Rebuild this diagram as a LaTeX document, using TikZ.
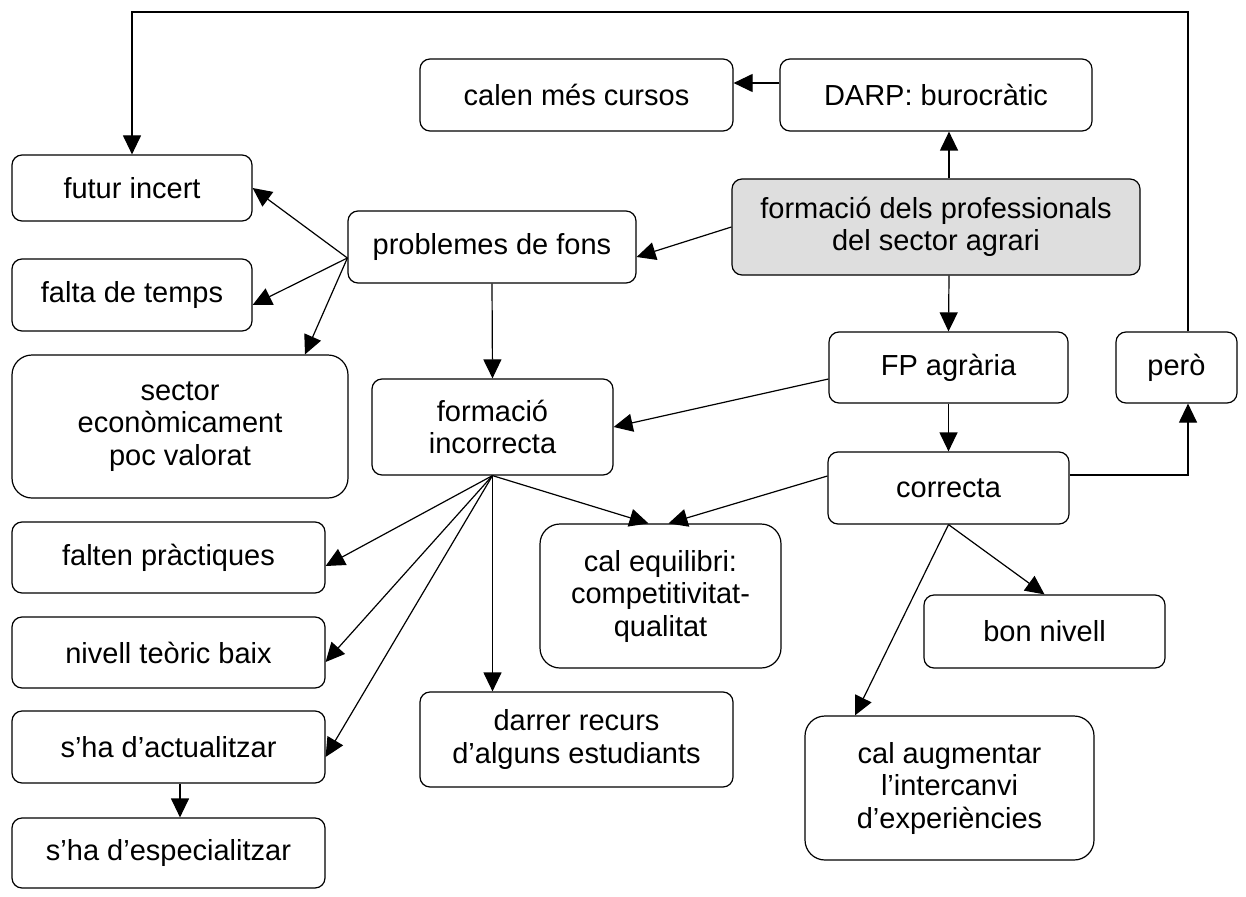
\documentclass[tikz,border=0pt]{standalone}
\usepackage{fontspec}
\setmainfont{Liberation Sans}
\usetikzlibrary{arrows.meta}
\definecolor{boxgray}{HTML}{DEDEDE}
\tikzset{
  box/.style={draw, line width=1.2pt, rounded corners=10pt, align=center, inner sep=0pt,
    font=\fontsize{29}{32.5}\selectfont},
  tallbox/.style={box, rounded corners=20pt},
  arr/.style={line width=1.2pt, -{Triangle[length=19pt,width=18pt]}}
}
\begin{document}
\begin{tikzpicture}[x=1pt, y=-1pt]
  \useasboundingbox (0,0) rectangle (1246,896);
  % top row
  \node[box, minimum width=313pt, minimum height=72pt] (calen) at (576.5,95) {calen més cursos};
  \node[box, minimum width=312pt, minimum height=72pt] (darp) at (936,95) {DARP: burocràtic};
  \node[box, fill=boxgray, minimum width=408pt, minimum height=96pt] (formacio) at (936,227)
    {formació dels professionals\\del sector agrari};
  \node[box, minimum width=288pt, minimum height=72pt] (problemes) at (492,247) {problemes de fons};
  % left column
  \node[box, minimum width=240pt, minimum height=66pt] (futur) at (132,188) {futur incert};
  \node[box, minimum width=240pt, minimum height=72pt] (falta) at (132,295) {falta de temps};
  \node[tallbox, minimum width=336pt, minimum height=143pt] (sector) at (180,426.5)
    {sector\\econòmicament\\poc valorat};
  \node[box, minimum width=313pt, minimum height=71pt] (falten) at (168.5,557.5) {falten pràctiques};
  \node[box, minimum width=313pt, minimum height=71pt] (nivell) at (168.5,652.5) {nivell teòric baix};
  \node[box, minimum width=313pt, minimum height=72pt] (actual) at (168.5,747) {s’ha d’actualitzar};
  \node[box, minimum width=313pt, minimum height=70pt] (espec) at (168.5,853) {s’ha d’especialitzar};
  % middle
  \node[box, minimum width=241pt, minimum height=96pt] (incorrecta) at (492.5,427) {formació\\incorrecta};
  \node[tallbox, minimum width=241pt, minimum height=144pt] (equilibri) at (660.5,596)
    {cal equilibri:\\competitivitat-\\qualitat};
  \node[box, minimum width=313pt, minimum height=95pt] (darrer) at (576.5,739.5)
    {darrer recurs\\d’alguns estudiants};
  % right
  \node[box, minimum width=239pt, minimum height=71pt] (fp) at (948.5,367.5) {FP agrària};
  \node[box, minimum width=121pt, minimum height=71pt] (pero) at (1176.5,367.5) {però};
  \node[box, minimum width=241pt, minimum height=72pt] (correcta) at (948.5,488) {correcta};
  \node[box, minimum width=241pt, minimum height=73pt] (bon) at (1044.5,631.5) {bon nivell};
  \node[tallbox, minimum width=289pt, minimum height=144pt] (augmentar) at (949.5,788)
    {cal augmentar\\l’intercanvi\\d’experiències};
  \coordinate (dalt) at (0,12);

  % connectors
  \draw[arr] ([xshift=11.5pt]pero.north) |- (dalt -| futur.north) -- (futur.north);
  \draw[arr] ([yshift=12pt]darp.west) -- ([yshift=12pt]calen.east);
  \draw[arr] ([xshift=13pt]formacio.north) -- ([xshift=13pt]darp.south);
  \draw[arr] (formacio.west) -- ([yshift=-10pt]problemes.east);
  \draw[arr] ([xshift=13pt]formacio.south) -- (fp.north);
  \draw[arr] ([yshift=-11pt]problemes.west) -- (futur.east);
  \draw[arr] ([yshift=-11pt]problemes.west) -- ([yshift=-10pt]falta.east);
  \draw[arr] ([yshift=-11pt]problemes.west) -- ([xshift=125pt]sector.north);
  \draw[arr] (problemes.south) -- (incorrecta.north);
  \draw[arr] ([yshift=-11.5pt]fp.west) -- (incorrecta.east);
  \draw[arr] (fp.south) -- (correcta.north);
  \draw[arr] ([yshift=13pt]correcta.east) -| ([xshift=11.5pt]pero.south);
  \draw[arr] ([yshift=12pt]correcta.west) -- ([xshift=8pt]equilibri.north);
  \draw[arr] (correcta.south) -- (bon.north);
  \draw[arr] (correcta.south) -- ([xshift=-94.5pt]augmentar.north);
  \draw[arr] (incorrecta.south) -- ([xshift=-12pt]equilibri.north);
  \draw[arr] (incorrecta.south) -- ([yshift=-8.5pt]falten.east);
  \draw[arr] (incorrecta.south) -- ([yshift=-9.5pt]nivell.east);
  \draw[arr] (incorrecta.south) -- ([yshift=-10pt]actual.east);
  \draw[arr] (incorrecta.south) -- (incorrecta.south |- darrer.north);
  \draw[arr] ([xshift=11.5pt]actual.south) -- ([xshift=11.5pt]espec.north);
\end{tikzpicture}
\end{document}
